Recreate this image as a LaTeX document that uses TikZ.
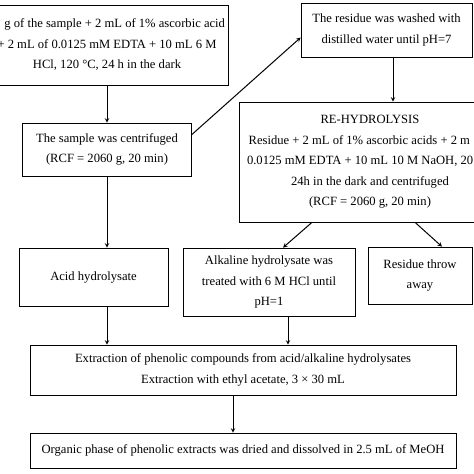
\documentclass[tikz,border=0pt]{standalone}
\usepackage{fontspec}
\setmainfont{Liberation Serif}
\begin{document}
\begin{tikzpicture}[x=1pt,y=-1pt,
    box/.style={draw,line width=0.7pt,align=center,inner sep=0pt,font=\fontsize{12.6}{20.5}\selectfont},
    line/.style={->,>=stealth,line width=1pt}]
    \useasboundingbox (0,0) rectangle (474,474);
    \clip (0,0) rectangle (474,474);
    \node[box,minimum width=242pt,minimum height=80pt] (start) at (107,45)
        {\phantom{1}\hspace*{6pt} g of the sample + 2 mL of 1\% ascorbic acid\\+ 2 mL of 0.0125 mM EDTA + 10 mL 6 M\\HCl, 120 °C, 24 h in the dark}; %sample
    \node[box,minimum width=169pt,minimum height=53pt] (centri) at (107,149.5)
        {The sample was centrifuged\\(RCF = 2060 g, 20 min)};
    \node[box,minimum width=171pt,minimum height=54pt] (wash) at (386.5,30)
        {The residue was washed with\\distilled water until pH=7};
    \node[box,minimum width=262pt,minimum height=120pt] (rehyd) at (370,162)
        {RE-HYDROLYSIS\\Residue + 2 mL of 1\% ascorbic acids + 2 m\phantom{L of}\\0.0125 mM EDTA + 10 mL 10 M NaOH, 20\phantom{ °C,}\\24h in the dark and centrifuged\\(RCF = 2060 g, 20 min)}; %re-hydrolysis
    \node[box,minimum width=149pt,minimum height=58pt] (acid) at (93.5,277) {Acid hydrolysate};
    \node[box,minimum width=172pt,minimum height=68pt] (alk) at (269,282)
        {Alkaline hydrolysate was\\treated with 6 M HCl until\\pH=1};
    \node[box,minimum width=104pt,minimum height=57pt] (throw) at (420,275.5) {Residue throw\\away};
    \node[box,minimum width=426pt,minimum height=50pt] (extr) at (243,370)
        {Extraction of phenolic compounds from acid/alkaline hydrolysates\\Extraction with ethyl acetate, 3 × 30 mL};
    \node[box,minimum width=426pt,minimum height=35pt] (final) at (243,450.5)
        {Organic phase of phenolic extracts was dried and dissolved in 2.5 mL of MeOH};
    % arrows
    \draw[line] (start) -- (centri);
    \draw[line] (centri.10) -- (wash.185);
    \draw[line] ([xshift=6.5pt]wash.south) -- ([xshift=6.5pt]wash.south |- rehyd.north);
    \draw[line] ([xshift=-58pt]rehyd.south) -- ([xshift=14pt]alk.north);
    \draw[line] ([xshift=45pt]rehyd.south) -- ([xshift=22pt]throw.north);
    \draw[line] (centri) -- (centri |- acid.north);
    \draw[line] (acid.south -| centri) -- (centri |- extr.north);
    \draw[line] ([xshift=19pt]alk.south) -- ([xshift=19pt]alk.south |- extr.north);
    \draw[line] ([xshift=-10pt]extr.south) -- ([xshift=-10pt]extr.south |- final.north);
\end{tikzpicture}
\end{document}
